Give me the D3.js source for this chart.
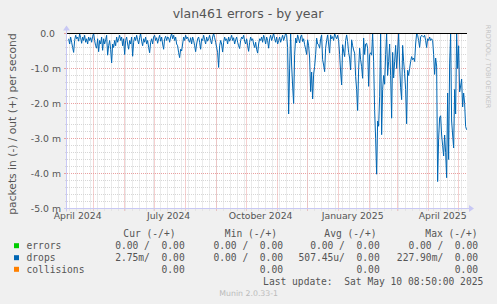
<!DOCTYPE html>
<html>
<head>
	<meta charset="utf-8">
	<script src="https://d3js.org/d3.v7.min.js"></script>
	<style>
		html, body {
			margin: 0;
			padding: 0;
			background-color: #f0f0f0;
		}
		svg {
			display: block;
			font-family: 'DejaVu Sans', sans-serif;
		}
		.mono {
			font-family: 'DejaVu Sans Mono', monospace;
		}
	</style>
</head>
<body>
	<div id="chart"></div>

	<script>
		const title = 'vlan461 errors - by year'
		const yTitle = 'packets in (-) / out (+) per second'
		const lastUpdate = new Date(2025, 4, 10, 8, 50)
		const firstDay = new Date(2024, 3, 7)

		// daily drops (in), milli packets/s, one value per day from firstDay
		const drops = [
			0.15, 0.30, 0.10, 0.25, 0.40, 0.54, 0.20, 0.05, 0.15, 0.10,
			0.22, 0.00, 0.12, 0.28, 0.10, 0.20, 0.05, 0.25, 0.15, 0.30,
			0.10, 0.20, 0.12, 0.25, 0.08, 0.00, 0.20, 0.35, 0.42, 0.15,
			0.52, 0.20, 0.30, 0.10, 0.48, 0.15, 0.30, 0.18, 0.05, 0.62,
			0.35, 0.20, 0.45, 0.84, 0.30, 0.40, 0.20, 0.35, 0.10, 0.25,
			0.15, 0.05, 0.20, 0.10, 0.35, 0.15, 0.60, 0.20, 0.10, 0.30,
			0.45, 0.20, 0.30, 0.10, 0.65, 0.25, 0.10, 0.20, 0.05, 0.18,
			0.30, 0.12, 0.00, 0.22, 0.35, 0.15, 0.25, 0.10, 0.30, 0.20,
			0.40, 0.55, 0.25, 0.15, 0.30, 0.10, 0.05, 0.20, 0.12, 0.28,
			0.15, 0.05, 0.22, 0.10, 0.30, 0.45, 0.15, 0.08, 0.20, 0.10,
			0.12, 0.25, 0.10, 0.00, 0.15, 0.05, 0.20, 0.10, 0.30, 0.35,
			0.55, 0.69, 0.45, 0.50, 0.30, 0.10, 0.20, 0.05, 0.15, 0.10,
			0.20, 0.25, 0.12, 0.30, 0.10, 0.20, 0.35, 0.52, 0.30, 0.15,
			0.10, 0.25, 0.45, 0.15, 0.20, 0.05, 0.18, 0.30, 0.10, 0.22,
			0.15, 0.05, 0.20, 0.30, 0.10, 0.00, 0.12, 0.25, 0.40, 0.55,
			0.97, 0.35, 0.20, 0.30, 0.53, 0.25, 0.10, 0.20, 0.15, 0.30,
			0.10, 0.22, 0.15, 0.05, 0.20, 0.12, 0.30, 0.18, 0.10, 0.25,
			0.35, 0.43, 0.20, 0.10, 0.15, 0.05, 0.22, 0.30, 0.15, 0.35,
			0.51, 0.25, 0.10, 0.20, 0.15, 0.30, 0.40, 0.25, 0.45, 0.56,
			0.30, 0.15, 0.20, 0.10, 0.25, 0.05, 0.15, 0.30, 0.10, 0.20,
			0.42, 0.15, 0.05, 0.20, 0.10, 0.00, 0.15, 0.25, 0.10, 0.30,
			0.20, 0.10, 0.25, 0.15, 0.05, 0.20, 0.10, 0.00, 0.05, 0.40,
			2.30, 1.00, 0.00, 0.90, 1.50, 2.00, 0.60, 0.13, 0.27, 0.04,
			0.15, 0.27, 0.10, 0.04, 0.23, 0.15, 0.32, 0.45, 0.60, 0.18,
			0.35, 0.70, 1.66, 1.10, 1.87, 1.16, 0.94, 0.60, 0.13, 0.30,
			0.32, 0.42, 0.15, 0.04, 0.75, 0.90, 1.09, 0.42, 0.20, 0.04,
			0.30, 0.56, 0.04, 0.15, 0.09, 0.20, 0.00, 0.09, 0.15, 0.05,
			0.20, 0.60, 1.10, 1.47, 0.32, 0.50, 0.66, 0.20, 0.04, 0.23,
			0.55, 0.70, 1.04, 0.18, 0.35, 0.47, 0.56, 1.23, 1.60, 2.20,
			1.00, 0.42, 0.75, 0.95, 1.28, 0.13, 0.60, 0.30, 0.28, 0.42,
			1.51, 0.60, 0.55, 0.62, 0.00, 0.80, 2.20, 3.00, 4.02, 2.50,
			2.65, 1.80, 0.00, 2.89, 1.60, 1.20, 1.45, 0.60, 0.00, 1.20,
			0.80, 0.30, 1.20, 2.42, 0.54, 1.27, 0.80, 0.34, 1.00, 0.50,
			0.00, 0.90, 1.55, 1.89, 0.34, 0.80, 1.15, 1.60, 2.58, 1.05,
			1.20, 1.00, 0.80, 0.66, 0.75, 0.70, 0.80, 0.30, 0.00, 0.05,
			0.20, 0.40, 0.10, 0.05, 0.08, 0.10, 0.05, 0.20, 0.40, 0.15,
			0.20, 0.10, 0.20, 0.15, 0.20, 0.60, 1.17, 0.70, 0.93, 4.23,
			3.00, 2.40, 2.35, 2.90, 3.20, 3.50, 2.90, 3.40, 4.12, 1.70,
			3.60, 0.87, 0.00, 2.50, 2.90, 3.27, 1.60, 2.30, 0.00, 1.00,
			0.35, 1.67, 1.50, 1.30, 2.10, 1.70, 2.00, 2.66, 2.75
		]

		const yTicks = [0, -1, -2, -3, -4, -5]

		const legendNames = ['errors', 'drops', 'collisions']
		const legendColors = ['#00cc00', '#0066b3', '#ff8000']
		const colHeads = ['Cur (-/+)', 'Min (-/+)', 'Avg (-/+)', 'Max (-/+)']
		const curVals = ['0.00 /  0.00', '2.75m/  0.00', '0.00']
		const minVals = ['0.00 /  0.00', '0.00 /  0.00', '0.00']
		const avgVals = ['0.00 /  0.00', '507.45u/  0.00', '0.00']
		const maxVals = ['0.00 /  0.00', '227.90m/  0.00', '0.00']
		const updateText = 'Last update:  Sat May 10 08:50:00 2025'
		const version = 'Munin 2.0.33-1'
	</script>

	<script>
		const width = 497, height = 304
		const box = {left: 67, right: 467, top: 33.5, bottom: 208.5}

		// keep runs of spaces in the monospace legend
		const keep = s => s.replace(/ /g, '\u00a0')

		const svg = d3.select('#chart')
			.append('svg')
			.attr('width', width)
			.attr('height', height)

		svg.append('rect')
			.attr('width', width)
			.attr('height', height)
			.attr('fill', '#f0f0f0')

		const start = new Date(+lastUpdate - 400 * 864e5)
		const x = d3.scaleTime()
			.domain([start, lastUpdate])
			.range([box.left, box.right])
		const y = d3.scaleLinear()
			.domain([-5, 0])
			.range([box.bottom, box.top])

		const px = v => Math.round(v) + 0.5

		// plot background
		svg.append('rect')
			.attr('x', box.left)
			.attr('y', box.top - 0.5)
			.attr('width', box.right - box.left)
			.attr('height', box.bottom - box.top)
			.attr('fill', '#ffffff')

		const minorCol = '#d6d6d6'
		const majorCol = '#eaa0a0'

		// horizontal grid: minor every 0.2 m, major every 1 m
		const hLines = d3.range(0, 26).map(k => ({v: -k / 5, major: k % 5 === 0}))
		svg.append('g')
			.selectAll('line')
			.data(hLines.filter(d => d.v !== 0 && d.v !== -5))
			.enter()
			.append('line')
			 .attr('x1', box.left)
			 .attr('x2', box.right)
			 .attr('y1', d => px(y(d.v) - 0.5))
			 .attr('y2', d => px(y(d.v) - 0.5))
			 .attr('stroke', d => d.major ? majorCol : minorCol)
			 .attr('stroke-dasharray', '1,1')
		svg.append('g')
			.selectAll('line')
			.data(hLines)
			.enter()
			.append('line')
			 .attr('x1', d => d.major ? box.left - 3 : box.left - 2)
			 .attr('x2', box.left)
			 .attr('y1', d => px(y(d.v) - 0.5))
			 .attr('y2', d => px(y(d.v) - 0.5))
			 .attr('stroke', d => d.major ? majorCol : minorCol)

		// vertical grid: weeks (sunday) and months
		const weeks = d3.timeSunday.range(start, lastUpdate)
		const months = d3.timeMonth.range(start, lastUpdate)
		svg.append('g')
			.selectAll('line')
			.data(weeks)
			.enter()
			.append('line')
			 .attr('x1', d => px(x(d)))
			 .attr('x2', d => px(x(d)))
			 .attr('y1', box.top)
			 .attr('y2', box.bottom + 2)
			 .attr('stroke', minorCol)
			 .attr('stroke-dasharray', '1,1')
		svg.append('g')
			.selectAll('line')
			.data(months)
			.enter()
			.append('line')
			 .attr('x1', d => px(x(d)))
			 .attr('x2', d => px(x(d)))
			 .attr('y1', box.top)
			 .attr('y2', box.bottom + 3)
			 .attr('stroke', majorCol)
			 .attr('stroke-dasharray', '1,1')

		// drops line (incoming, drawn negative)
		const line = d3.line()
			.x((d, i) => x(d3.timeDay.offset(firstDay, i)))
			.y(d => y(-d))
		svg.append('path')
			.datum(drops)
			.attr('d', line)
			.attr('fill', 'none')
			.attr('stroke', '#0066b3')
			.attr('stroke-width', 1)
			.attr('stroke-linejoin', 'round')

		// zero line
		svg.append('line')
			.attr('x1', box.left)
			.attr('x2', box.right)
			.attr('y1', px(y(0) - 0.5))
			.attr('y2', px(y(0) - 0.5))
			.attr('stroke', '#000')

		// axes with arrows
		const axisCol = '#c8c8f4'
		svg.append('line')
			.attr('x1', box.left - 3)
			.attr('x2', box.right + 4)
			.attr('y1', box.bottom)
			.attr('y2', box.bottom)
			.attr('stroke', axisCol)
		svg.append('path')
			.attr('d', `M${box.right + 2},${box.bottom - 3.5}L${box.right + 7},${box.bottom}L${box.right + 2},${box.bottom + 3.5}Z`)
			.attr('fill', axisCol)
		svg.append('line')
			.attr('x1', box.left - 0.5)
			.attr('x2', box.left - 0.5)
			.attr('y1', box.bottom + 3)
			.attr('y2', box.top - 4)
			.attr('stroke', axisCol)
		svg.append('path')
			.attr('d', `M${box.left - 4},${box.top - 3}L${box.left - 0.5},${box.top - 8}L${box.left + 3},${box.top - 3}Z`)
			.attr('fill', axisCol)

		// y labels
		svg.append('g')
			.selectAll('text')
			.data(yTicks)
			.enter()
			.append('text')
			 .attr('x', d => d === 0 ? 55 : 61)
			 .attr('y', d => y(d) + 3.2)
			 .attr('text-anchor', 'end')
			 .attr('font-size', '9.3px')
			 .attr('fill', '#555')
			 .text(d => d === 0 ? '0.0' : d3.format('.1f')(d).replace('−', '-') + ' m')

		// x labels, centred half a month after each quarter start
		const quarters = d3.timeMonth.every(3).range(d3.timeMonth.offset(start, -3), lastUpdate)
			.filter(d => +d3.timeDay.offset(d, 15) > +start)
		svg.append('g')
			.selectAll('text')
			.data(quarters)
			.enter()
			.append('text')
			 .attr('x', d => x(d3.timeDay.offset(d, 15)))
			 .attr('y', 218.5)
			 .attr('text-anchor', 'middle')
			 .attr('font-size', '9.3px')
			 .attr('fill', '#555')
			 .text(d => d3.timeFormat('%B %Y')(d))

		// titles
		svg.append('text')
			.attr('x', 248)
			.attr('y', 17.5)
			.attr('text-anchor', 'middle')
			.attr('font-size', '12.5px')
			.attr('fill', '#555')
			.text(title)

		svg.append('text')
			.attr('transform', 'translate(15.5,124) rotate(-90)')
			.attr('text-anchor', 'middle')
			.attr('font-size', '10.7px')
			.attr('fill', '#555')
			.text(yTitle)

		svg.append('text')
			.attr('transform', 'translate(486,66.5) rotate(90)')
			.attr('text-anchor', 'middle')
			.attr('font-size', '6.5px')
			.attr('fill', '#c4c4c4')
			.text('RRDTOOL / TOBI OETIKER')

		// legend
		const colEnds = [184.7, 283, 379.7, 478]
		const headEnds = [175.5, 277, 376.5, 477.5]
		const rowBase = [249.2, 261.2, 272.8]
		const legend = svg.append('g')
			.attr('class', 'mono')
			.attr('font-size', '9.65px')
			.attr('fill', '#555')

		legend.selectAll('.head')
			.data(colHeads)
			.enter()
			.append('text')
			 .attr('x', (d, i) => headEnds[i])
			 .attr('y', 236.8)
			 .attr('text-anchor', 'end')
			 .text(d => keep(d))

		legend.selectAll('.box')
			.data(legendColors)
			.enter()
			.append('rect')
			 .attr('x', 14)
			 .attr('y', (d, i) => rowBase[i] - 6)
			 .attr('width', 5)
			 .attr('height', 5)
			 .attr('fill', d => d)

		legend.selectAll('.name')
			.data(legendNames)
			.enter()
			.append('text')
			 .attr('x', 26.5)
			 .attr('y', (d, i) => rowBase[i])
			 .text(d => d)

		const cols = [curVals, minVals, avgVals, maxVals]
		cols.forEach((vals, c) => {
			legend.selectAll('.c' + c)
				.data(vals)
				.enter()
				.append('text')
				 .attr('x', colEnds[c])
				 .attr('y', (d, i) => rowBase[i])
				 .attr('text-anchor', 'end')
				 .text(d => keep(d))
		})

		legend.append('text')
			.attr('x', 483.3)
			.attr('y', 285.2)
			.attr('text-anchor', 'end')
			.text(keep(updateText))

		svg.append('text')
			.attr('x', 248.7)
			.attr('y', 296)
			.attr('text-anchor', 'middle')
			.attr('font-size', '7.8px')
			.attr('fill', '#bbb')
			.text(version)
	</script>
</body>
</html>
